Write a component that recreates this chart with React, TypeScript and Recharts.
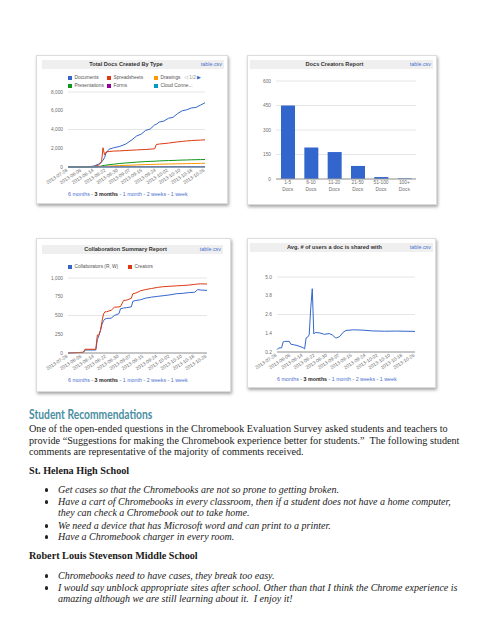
import React from 'react';
import { LineChart, Line, BarChart, Bar, XAxis, YAxis, CartesianGrid } from 'recharts';

// ---------------- data ----------------
const DATE_TICKS = [0, 9, 17, 25, 33, 41, 49, 58, 66, 74, 82, 90];
const DATE_LABELS = ['2013-07-28', '2013-08-06', '2013-08-14', '2013-08-22', '2013-08-30', '2013-09-07', '2013-09-15', '2013-09-24', '2013-10-02', '2013-10-10', '2013-10-18', '2013-10-26'];

const DOC_TYPE_NAMES = ['Documents', 'Spreadsheets', 'Drawings', 'Presentations', 'Forms', 'Cloud Conne...'];
const DOC_DAYS = [0, 12, 17, 20, 22, 23, 24, 25, 27, 30, 34, 38, 42, 45, 48, 51, 54, 57, 58, 60, 63, 66, 69, 72, 75, 78, 81, 84, 87, 90];
const DOCUMENTS = [0, 0, 100, 300, 550, 700, 1000, 1500, 1900, 2050, 2200, 2450, 2900, 3300, 3500, 3900, 4050, 4500, 4550, 4800, 4900, 5200, 5300, 5700, 6000, 6100, 6300, 6350, 6600, 6850];
const SPREADSHEETS = [0, 0, 50, 200, 500, 2050, 1300, 1600, 1650, 1700, 1720, 1760, 1800, 1820, 1850, 1870, 1900, 1950, 2400, 2450, 2500, 2550, 2620, 2680, 2730, 2780, 2820, 2850, 2870, 2900];
const DRAWINGS = [0, 0, 10, 30, 50, 60, 70, 80, 100, 120, 150, 180, 200, 220, 240, 260, 270, 280, 290, 300, 310, 320, 330, 340, 350, 360, 370, 380, 390, 400];
const PRESENTATIONS = [0, 0, 20, 60, 100, 150, 180, 200, 250, 300, 380, 430, 480, 520, 550, 580, 600, 620, 630, 650, 670, 690, 700, 720, 740, 750, 770, 780, 790, 800];
const FORMS = [0, 0, 5, 10, 15, 15, 20, 20, 20, 25, 25, 25, 30, 30, 30, 30, 30, 35, 35, 35, 35, 35, 40, 40, 40, 40, 40, 40, 40, 40];
const CLOUD = [0, 0, 0, 0, 0, 0, 0, 0, 0, 0, 0, 0, 0, 0, 0, 0, 0, 0, 0, 0, 0, 0, 0, 0, 0, 0, 0, 0, 0, 0];
const DOC_TICKS = [0, 2000, 4000, 6000, 8000];

const CREATOR_BINS = ['1-5 Docs', '6-10 Docs', '11-20 Docs', '21-50 Docs', '51-100 Docs', '100+ Docs'];
const CREATOR_COUNTS = [450, 193, 165, 80, 12, 4];
const CREATOR_TICKS = [0, 150, 300, 450, 600];

const COLLAB_NAMES = ['Collaborators (R, W)', 'Creators'];
const COLLAB_DAYS = [0, 10, 11, 18, 19, 20, 21, 22, 23, 24, 25, 28, 30, 33, 34, 36, 38, 41, 42, 44, 47, 50, 54, 58, 62, 66, 70, 74, 78, 82, 84, 86, 90];
const COLLABORATORS = [0, 8, 40, 40, 180, 230, 300, 380, 430, 455, 460, 465, 500, 525, 590, 600, 605, 615, 690, 700, 710, 730, 745, 755, 765, 775, 790, 795, 805, 810, 845, 840, 835];
const CREATORS = [0, 10, 50, 50, 240, 240, 300, 420, 520, 550, 550, 570, 610, 615, 620, 700, 705, 730, 790, 800, 830, 845, 860, 875, 885, 890, 895, 900, 905, 915, 920, 922, 920];
const COLLAB_TICKS = [0, 250, 500, 750, 1000];

const SHARE_DAYS = [0, 1, 3, 4, 5, 8, 9, 11, 13, 15, 17, 18, 19, 20, 21, 22, 23, 24, 25, 28, 31, 34, 36, 38, 39, 41, 43, 45, 50, 56, 62, 70, 78, 90];
const AVG_SHARED = [0.35, 0.45, 0.47, 0.85, 0.88, 0.88, 0.7, 0.66, 0.62, 0.55, 0.48, 0.4, 1.1, 1.15, 1.3, 3.0, 4.25, 1.35, 1.45, 1.42, 1.33, 1.38, 1.3, 1.12, 1.1, 1.2, 1.45, 1.58, 1.62, 1.6, 1.55, 1.53, 1.54, 1.52];
const SHARE_TICKS = [0.2, 1.4, 2.6, 3.8, 5.0];

const RANGES = ['6 months', '3 months', '1 month', '2 weeks', '1 week'];

// ---------------- styles ----------------
const SANS = '"Liberation Sans", Arial, sans-serif';
const SERIF = '"Liberation Serif", "Times New Roman", serif';
const DOC_COLORS = ['#3366cc', '#dc3912', '#ff9900', '#109618', '#990099', '#0099c6'];
const COLLAB_COLORS = ['#3366cc', '#dc3912'];
const AXIS_TEXT = '#6e6e6e';
const GRID = '#e6e6e6';

const docData = DOC_DAYS.map((d, i) => ({
  day: d,
  documents: DOCUMENTS[i],
  spreadsheets: SPREADSHEETS[i],
  drawings: DRAWINGS[i],
  presentations: PRESENTATIONS[i],
  forms: FORMS[i],
  cloud: CLOUD[i],
}));
const docKeys = ['documents', 'spreadsheets', 'drawings', 'presentations', 'forms', 'cloud'];
const creatorData = CREATOR_BINS.map((b, i) => ({ bin: b, count: CREATOR_COUNTS[i] }));
const collabData = COLLAB_DAYS.map((d, i) => ({ day: d, collaborators: COLLABORATORS[i], creators: CREATORS[i] }));
const shareData = SHARE_DAYS.map((d, i) => ({ day: d, avg: AVG_SHARED[i] }));

const DateTick = (props: any) => {
  const { x, y, payload } = props;
  const idx = DATE_TICKS.indexOf(payload.value);
  const label = idx >= 0 ? DATE_LABELS[idx] : '';
  return (
    <text x={x} y={y + 4} textAnchor="end" fontSize={4.8} fill={AXIS_TEXT} fontFamily={SANS}
      transform={`rotate(-33, ${x}, ${y + 4})`}>{label}</text>
  );
};

const BinTick = (props: any) => {
  const { x, y, payload } = props;
  const parts = String(payload.value).split(' ');
  return (
    <text x={x} y={y} textAnchor="middle" fontSize={4.8} fill={AXIS_TEXT} fontFamily={SANS}>
      <tspan x={x} dy={4.8}>{parts[0]}</tspan>
      <tspan x={x} dy={6.8}>{parts[1]}</tspan>
    </text>
  );
};

const yTick = { fontSize: 4.8, fill: AXIS_TEXT, fontFamily: SANS };

const abs = (left: number, top: number, extra: any = {}) => ({ position: 'absolute' as const, left, top, ...extra });

const Panel = ({ left, top, width, height }: any) => (
  <div style={abs(left, top, { width, height, boxSizing: 'border-box', background: '#fff', border: '1px solid #dcdcdc', boxShadow: '1px 2px 3px rgba(0,0,0,0.35)' })} />
);

const TitleBar = ({ left, top, width, title }: any) => (
  <div style={abs(left, top, { width, height: 9, background: '#efefef', fontFamily: SANS })}>
    <div style={{ position: 'absolute', left: 0, top: 0, width: width - 14, textAlign: 'center', fontSize: 5.6, fontWeight: 'bold', color: '#333', lineHeight: '9px', whiteSpace: 'nowrap' }}>{title}</div>
    <div style={{ position: 'absolute', right: 2, top: 0, fontSize: 5.4, color: '#4a6fd0', lineHeight: '9px' }}>table.csv</div>
  </div>
);

const Footer = ({ left, top }: any) => (
  <div style={abs(left, top, { fontSize: 5.3, fontFamily: SANS, whiteSpace: 'nowrap', lineHeight: '7px', color: '#555' })}>
    {RANGES.map((r, i) => (
      <span key={r}>{i > 0 ? ' - ' : ''}<span style={r === '3 months' ? { fontWeight: 'bold', color: '#222' } : { color: '#4a6fd0' }}>{r}</span></span>
    ))}
  </div>
);

const LegendItem = ({ left, top, color, label }: any) => (
  <div style={abs(left, top, { fontSize: 4.8, fontFamily: SANS, color: '#555', lineHeight: '6px', whiteSpace: 'nowrap' })}>
    <span style={{ display: 'inline-block', width: 4, height: 4, background: color, marginRight: 2.5, verticalAlign: '-0.5px' }} />{label}
  </div>
);

const TextLine = ({ x, cy, children, style }: any) => (
  <div style={abs(x, cy - 7, { lineHeight: '14px', whiteSpace: 'pre', fontFamily: SERIF, fontSize: 10.2, color: '#1a1a1a', ...style })}>{children}</div>
);

const Bullet = ({ cy }: any) => (
  <div style={abs(44.5, cy - 1.6, { width: 3.2, height: 3.2, borderRadius: '50%', background: '#222' })} />
);

const italic = { fontStyle: 'italic', fontSize: 10 };
const bold = { fontWeight: 'bold' };

export default function App() {
  const legendCols = [69, 108, 155];
  return (
    <div style={{ position: 'fixed', left: 0, top: 0, width: 495, height: 640, background: '#fff', overflow: 'hidden' }}>
      {/* ---------- Chart 1 ---------- */}
      <Panel left={36} top={55} width={192} height={149} />
      <TitleBar left={42} top={60} width={182} title="Total Docs Created By Type" />
      {DOC_TYPE_NAMES.map((n, i) => (
        <LegendItem key={n} left={legendCols[i % 3] - 1} top={i < 3 ? 75 : 83} color={DOC_COLORS[i]} label={n} />
      ))}
      <div style={abs(184, 75, { fontSize: 4.8, fontFamily: SANS, color: '#999', lineHeight: '6px', whiteSpace: 'nowrap' })}>
        ◁ 1/2 <span style={{ color: '#3366cc' }}>▶</span>
      </div>
      <div style={abs(36, 55)}>
        <LineChart width={192} height={149} data={docData} margin={{ top: 37, right: 23, bottom: 7, left: 0 }}>
          <CartesianGrid horizontal vertical={false} stroke={GRID} />
          <XAxis dataKey="day" type="number" domain={[0, 90]} ticks={DATE_TICKS} interval={0} tick={<DateTick />} tickLine={false} tickSize={0} tickMargin={0} height={30} stroke="#999" />
          <YAxis domain={[0, 8000]} ticks={DOC_TICKS} width={32} tick={yTick} axisLine={false} tickLine={false} tickSize={0} tickMargin={5} tickFormatter={(v: number) => v.toLocaleString('en-US')} />
          {docKeys.map((k, i) => (
            <Line key={k} dataKey={k} type="linear" stroke={DOC_COLORS[i]} strokeWidth={1} dot={false} isAnimationActive={false} />
          ))}
        </LineChart>
      </div>
      <Footer left={68} top={190.5} />

      {/* ---------- Chart 2 ---------- */}
      <Panel left={247} top={55} width={190} height={150} />
      <TitleBar left={250} top={60} width={183} title="Docs Creators Report" />
      <div style={abs(247, 55)}>
        <BarChart width={190} height={150} data={creatorData} margin={{ top: 26, right: 21, bottom: 6, left: 0 }}>
          <CartesianGrid horizontal vertical={false} stroke={GRID} />
          <XAxis dataKey="bin" tick={<BinTick />} tickLine={false} tickSize={0} tickMargin={0} height={20} interval={0} stroke="#999" />
          <YAxis domain={[0, 600]} ticks={CREATOR_TICKS} width={29} tick={yTick} axisLine={false} tickLine={false} tickSize={0} tickMargin={5} />
          <Bar dataKey="count" fill="#3366cc" barSize={14} isAnimationActive={false} />
        </BarChart>
      </div>

      {/* ---------- Chart 3 ---------- */}
      <Panel left={36} top={238} width={195} height={154} />
      <TitleBar left={42} top={245} width={181} title="Collaboration Summary Report" />
      <LegendItem left={68} top={264} color={COLLAB_COLORS[0]} label={COLLAB_NAMES[0]} />
      <LegendItem left={128} top={264} color={COLLAB_COLORS[1]} label={COLLAB_NAMES[1]} />
      <div style={abs(36, 238)}>
        <LineChart width={195} height={154} data={collabData} margin={{ top: 40, right: 24, bottom: 9, left: 0 }}>
          <CartesianGrid horizontal vertical={false} stroke={GRID} />
          <XAxis dataKey="day" type="number" domain={[0, 90]} ticks={DATE_TICKS} interval={0} tick={<DateTick />} tickLine={false} tickSize={0} tickMargin={0} height={30} stroke="#999" />
          <YAxis domain={[0, 1000]} ticks={COLLAB_TICKS} width={32} tick={yTick} axisLine={false} tickLine={false} tickSize={0} tickMargin={5} tickFormatter={(v: number) => v.toLocaleString('en-US')} />
          <Line dataKey="collaborators" type="linear" stroke={COLLAB_COLORS[0]} strokeWidth={1} dot={false} isAnimationActive={false} />
          <Line dataKey="creators" type="linear" stroke={COLLAB_COLORS[1]} strokeWidth={1} dot={false} isAnimationActive={false} />
        </LineChart>
      </div>
      <Footer left={68} top={376.5} />

      {/* ---------- Chart 4 ---------- */}
      <Panel left={247} top={238} width={189} height={150} />
      <TitleBar left={250} top={243} width={183} title="Avg. # of users a doc is shared with" />
      <div style={abs(247, 238)}>
        <LineChart width={189} height={150} data={shareData} margin={{ top: 39, right: 21, bottom: 6, left: 0 }}>
          <CartesianGrid horizontal vertical={false} stroke={GRID} />
          <XAxis dataKey="day" type="number" domain={[0, 90]} ticks={DATE_TICKS} interval={0} tick={<DateTick />} tickLine={false} tickSize={0} tickMargin={0} height={30} stroke="#999" />
          <YAxis domain={[0.2, 5.0]} ticks={SHARE_TICKS} width={30} tick={yTick} axisLine={false} tickLine={false} tickSize={0} tickMargin={5} tickFormatter={(v: number) => v.toFixed(1)} />
          <Line dataKey="avg" type="linear" stroke="#3366cc" strokeWidth={1} dot={false} isAnimationActive={false} />
        </LineChart>
      </div>
      <Footer left={277} top={375.5} />

      {/* ---------- Text ---------- */}
      <div style={abs(29, 407, { lineHeight: '16px', fontFamily: 'Lato, "Open Sans", sans-serif', fontWeight: 'bold', fontSize: 12.4, color: '#4a8fa2', whiteSpace: 'nowrap', transform: 'scaleX(0.83)', transformOrigin: 'left center' })}>Student Recommendations</div>
      <TextLine x={29} cy={429}>One of the open-ended questions in the Chromebook Evaluation Survey asked students and teachers to</TextLine>
      <TextLine x={29} cy={441}>provide “Suggestions for making the Chromebook experience better for students.”  The following student</TextLine>
      <TextLine x={29} cy={452}>comments are representative of the majority of comments received.</TextLine>
      <TextLine x={29} cy={471} style={bold}>St. Helena High School</TextLine>
      <Bullet cy={490} />
      <TextLine x={58} cy={490} style={italic}>Get cases so that the Chromebooks are not so prone to getting broken.</TextLine>
      <Bullet cy={502} />
      <TextLine x={58} cy={502} style={italic}>Have a cart of Chromebooks in every classroom, then if a student does not have a home computer,</TextLine>
      <TextLine x={58} cy={513} style={italic}>they can check a Chromebook out to take home.</TextLine>
      <Bullet cy={526} />
      <TextLine x={58} cy={526} style={italic}>We need a device that has Microsoft word and can print to a printer.</TextLine>
      <Bullet cy={537} />
      <TextLine x={58} cy={537} style={italic}>Have a Chromebook charger in every room.</TextLine>
      <TextLine x={29} cy={556} style={bold}>Robert Louis Stevenson Middle School</TextLine>
      <Bullet cy={576} />
      <TextLine x={58} cy={576} style={italic}>Chromebooks need to have cases, they break too easy.</TextLine>
      <Bullet cy={588} />
      <TextLine x={58} cy={588} style={italic}>I would say unblock appropriate sites after school. Other than that I think the Chrome experience is</TextLine>
      <TextLine x={58} cy={599} style={italic}>amazing although we are still learning about it.  I enjoy it!</TextLine>
    </div>
  );
}
